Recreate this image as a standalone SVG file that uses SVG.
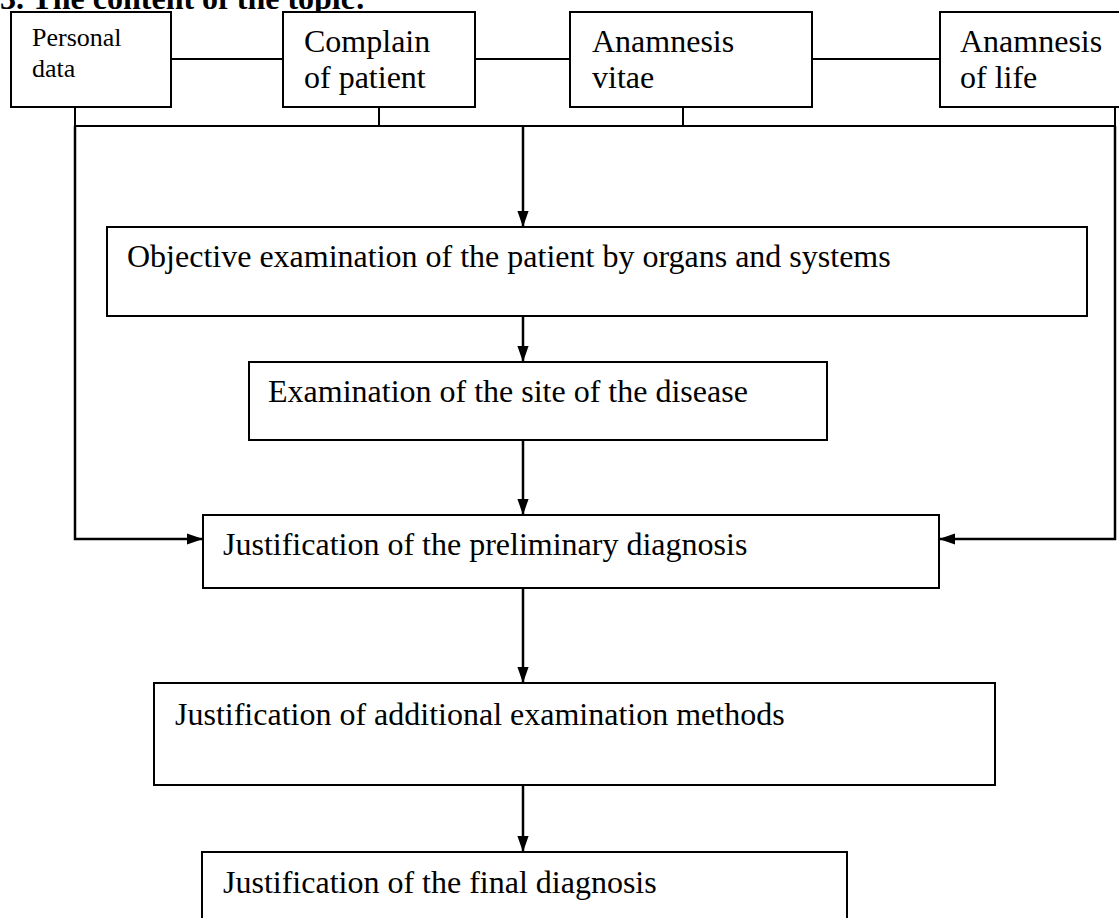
<svg xmlns="http://www.w3.org/2000/svg" width="1119" height="918" viewBox="0 0 1119 918">
<style>
.box{fill:#fff;stroke:#000;stroke-width:2}
.t{font-family:"Liberation Serif","Times New Roman",serif;font-size:32px;fill:#000}
.ts{font-family:"Liberation Serif","Times New Roman",serif;font-size:26px;fill:#000}
.title{font-family:"Liberation Serif","Times New Roman",serif;font-size:32px;font-weight:bold;fill:#000}
.ln{fill:none;stroke:#000;stroke-width:2}
.ar{fill:none;stroke:#000;stroke-width:2.5}
</style>
<defs>
<marker id="ahb" viewBox="0 0 10 10" refX="10" refY="5" markerWidth="16" markerHeight="16" markerUnits="userSpaceOnUse" orient="auto">
<path d="M0,1.5 L10,5 L0,8.5 z" fill="#000"/>
</marker>
</defs>
<text class="title" x="0" y="9">3. The content of the topic:</text>
<g id="connectors">
<line class="ln" x1="171" y1="59" x2="283" y2="59"/>
<line class="ln" x1="475" y1="59" x2="570" y2="59"/>
<line class="ln" x1="812" y1="59" x2="940" y2="59"/>
<line class="ln" x1="75" y1="107" x2="75" y2="126"/>
<line class="ln" x1="379" y1="107" x2="379" y2="126"/>
<line class="ln" x1="683" y1="107" x2="683" y2="126"/>
<line class="ln" x1="1115" y1="107" x2="1115" y2="126"/>
<line class="ln" x1="74" y1="126" x2="1116" y2="126"/>
<path class="ar" d="M523,126 V227" marker-end="url(#ahb)"/>
<path class="ar" d="M523,316 V362" marker-end="url(#ahb)"/>
<path class="ar" d="M523,440 V515" marker-end="url(#ahb)"/>
<path class="ar" d="M75,126 V539 H203" marker-end="url(#ahb)"/>
<path class="ar" d="M1115,126 V539 H939" marker-end="url(#ahb)"/>
<path class="ar" d="M523,588 V683" marker-end="url(#ahb)"/>
<path class="ar" d="M523,785 V852" marker-end="url(#ahb)"/>
</g>
<g id="n1"><rect class="box" x="11" y="12" width="160" height="95"/><text class="ts" x="32" y="46">Personal</text><text class="ts" x="32" y="77">data</text></g>
<g id="n2"><rect class="box" x="283" y="12" width="192" height="95"/><text class="t" x="304" y="52">Complain</text><text class="t" x="304" y="88">of patient</text></g>
<g id="n3"><rect class="box" x="570" y="12" width="242" height="95"/><text class="t" x="592" y="52">Anamnesis</text><text class="t" x="592" y="88">vitae</text></g>
<g id="n4"><rect class="box" x="940" y="12" width="190" height="95"/><text class="t" x="960" y="52">Anamnesis</text><text class="t" x="960" y="88">of life</text></g>
<g id="n5"><rect class="box" x="107" y="227" width="980" height="89"/><text class="t" x="127" y="267">Objective examination of the patient by organs and systems</text></g>
<g id="n6"><rect class="box" x="249" y="362" width="578" height="78"/><text class="t" x="268" y="402">Examination of the site of the disease</text></g>
<g id="n7"><rect class="box" x="203" y="515" width="736" height="73"/><text class="t" x="223" y="555">Justification of the preliminary diagnosis</text></g>
<g id="n8"><rect class="box" x="154" y="683" width="841" height="102"/><text class="t" x="175" y="725">Justification of additional examination methods</text></g>
<g id="n9"><rect class="box" x="202" y="852" width="645" height="80"/><text class="t" x="223" y="893">Justification of the final diagnosis</text></g>
</svg>
